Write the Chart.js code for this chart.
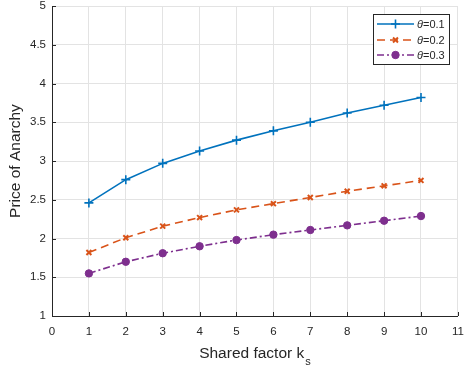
<!DOCTYPE html>
<html><head><meta charset="utf-8">
<script src="https://cdn.jsdelivr.net/npm/chart.js@4.4.0/dist/chart.umd.min.js"></script>
<style>html,body{margin:0;padding:0;background:#fff}#wrap{width:464px;height:370px}</style>
</head><body><div id="wrap"><canvas id="c" width="464" height="370"></canvas></div>
<script>
const ks = [1, 2, 3, 4, 5, 6, 7, 8, 9, 10];
const theta01 = [2.46, 2.76, 2.97, 3.13, 3.27, 3.39, 3.50, 3.62, 3.72, 3.82];
const theta02 = [1.82, 2.01, 2.16, 2.27, 2.37, 2.45, 2.53, 2.61, 2.68, 2.75];
const theta03 = [1.55, 1.70, 1.81, 1.90, 1.98, 2.05, 2.11, 2.17, 2.23, 2.29];
const seriesLabels = ['0.1', '0.2', '0.3'];
const xTitle = 'Shared factor k';
const xTitleSub = 's';
const yTitle = 'Price of Anarchy';

const FONT = '"Liberation Sans", Arial, Helvetica, sans-serif';
const TXT = '#262626';
const colors = ['#0072BD', '#D95319', '#7E2F8E'];
const dashes = [[], [8, 5], [7, 3, 2, 3]];
const styles = ['cross', 'crossRot', 'circle'];
const radii = [4.5, 3.5, 3.7];
const pbw = [1.6, 2, 1];

function pts(v) { return ks.map((k, i) => ({ x: k, y: v[i] })); }
const allVals = [theta01, theta02, theta03];

const datasets = allVals.map((v, i) => ({
  label: '\u03b8=' + seriesLabels[i],
  data: pts(v),
  borderColor: colors[i],
  backgroundColor: colors[i],
  borderWidth: 1.6,
  borderDash: dashes[i],
  pointStyle: styles[i],
  pointRadius: radii[i],
  pointBorderWidth: pbw[i],
  pointBackgroundColor: colors[i],
  pointBorderColor: colors[i],
  tension: 0,
  fill: false
}));

const extras = {
  id: 'extras',
  afterDraw(chart) {
    const ctx = chart.ctx;
    const ca = chart.chartArea;
    const xs = chart.scales.x, ys = chart.scales.y;
    ctx.save();
    // inward ticks
    ctx.strokeStyle = TXT; ctx.lineWidth = 1; ctx.setLineDash([]);
    ctx.beginPath();
    for (let v = 0; v <= 11; v++) {
      const px = Math.round(xs.getPixelForValue(v)) + 0.5;
      ctx.moveTo(px, ca.bottom); ctx.lineTo(px, ca.bottom - 4);
    }
    for (let v = 1; v <= 5.0001; v += 0.5) {
      const py = Math.round(ys.getPixelForValue(v)) + 0.5;
      ctx.moveTo(ca.left, py); ctx.lineTo(ca.left + 4, py);
    }
    ctx.stroke();
    // x title with subscript
    ctx.fillStyle = TXT;
    ctx.font = '15.5px ' + FONT;
    const w1 = ctx.measureText(xTitle).width;
    ctx.font = '11px ' + FONT;
    const w2 = ctx.measureText(xTitleSub).width;
    const cx = (ca.left + ca.right) / 2;
    const sx = cx - (w1 + 1 + w2) / 2;
    ctx.textBaseline = 'alphabetic'; ctx.textAlign = 'left';
    ctx.font = '15.5px ' + FONT;
    ctx.fillText(xTitle, sx, 357.5);
    ctx.font = '11px ' + FONT;
    ctx.fillText(xTitleSub, sx + w1 + 1, 364.5);
    // y title
    ctx.save();
    ctx.translate(19.5, (ca.top + ca.bottom) / 2);
    ctx.rotate(-Math.PI / 2);
    ctx.font = '15.5px ' + FONT;
    ctx.textAlign = 'center';
    ctx.fillText(yTitle, 0, 0);
    ctx.restore();
    // legend
    const bx = 373.5, by = 14.5, bw = 76, bh = 50;
    ctx.fillStyle = '#fff';
    ctx.fillRect(bx, by, bw, bh);
    ctx.strokeStyle = TXT; ctx.lineWidth = 1;
    ctx.strokeRect(bx, by, bw, bh);
    const rows = [24, 40, 55];
    datasets.forEach((ds, i) => {
      const y = rows[i];
      ctx.strokeStyle = ds.borderColor; ctx.lineWidth = 1.6;
      ctx.setLineDash(ds.borderDash);
      ctx.beginPath(); ctx.moveTo(377, y); ctx.lineTo(414, y); ctx.stroke();
      ctx.setLineDash([]);
      ctx.fillStyle = ds.borderColor;
      ctx.strokeStyle = ds.borderColor;
      ctx.lineWidth = ds.pointBorderWidth;
      Chart.helpers.drawPoint(ctx, {
        pointStyle: ds.pointStyle, radius: ds.pointRadius, borderWidth: ds.pointBorderWidth, rotation: 0
      }, 395.5, y);
      ctx.fillStyle = TXT;
      ctx.textBaseline = 'middle'; ctx.textAlign = 'left';
      ctx.font = 'italic 11px ' + FONT;
      const t = '\u03b8';
      ctx.fillText(t, 417, y + 0.5);
      const tw = ctx.measureText(t).width;
      ctx.font = '11px ' + FONT;
      ctx.fillText('=' + seriesLabels[i], 417 + tw, y + 0.5);
    });
    ctx.restore();
  }
};

new Chart(document.getElementById('c'), {
  type: 'line',
  data: { datasets },
  options: {
    responsive: false,
    devicePixelRatio: 1,
    animation: false,
    layout: { padding: { top: 4, right: 5, left: 0, bottom: 0 } },
    plugins: { legend: { display: false }, tooltip: { enabled: false } },
    scales: {
      x: {
        type: 'linear', min: 0, max: 11,
        ticks: { stepSize: 1, color: TXT, font: { family: FONT, size: 11.5 }, padding: 9, maxRotation: 0, autoSkip: false },
        grid: { color: '#e3e3e3', drawTicks: false },
        border: { color: TXT, width: 1 },
        afterFit(s) { s.height = 54; s.paddingLeft = 0; s.paddingRight = 0; }
      },
      y: {
        type: 'linear', min: 1, max: 5,
        ticks: { stepSize: 0.5, color: TXT, font: { family: FONT, size: 11.5 }, padding: 6, autoSkip: false,
          callback: v => String(v) },
        grid: { color: '#e3e3e3', drawTicks: false },
        border: { color: TXT, width: 1 },
        afterFit(s) { s.width = 52; s.paddingTop = 0; s.paddingBottom = 0; }
      }
    }
  },
  plugins: [extras]
});
</script>
</body></html>
